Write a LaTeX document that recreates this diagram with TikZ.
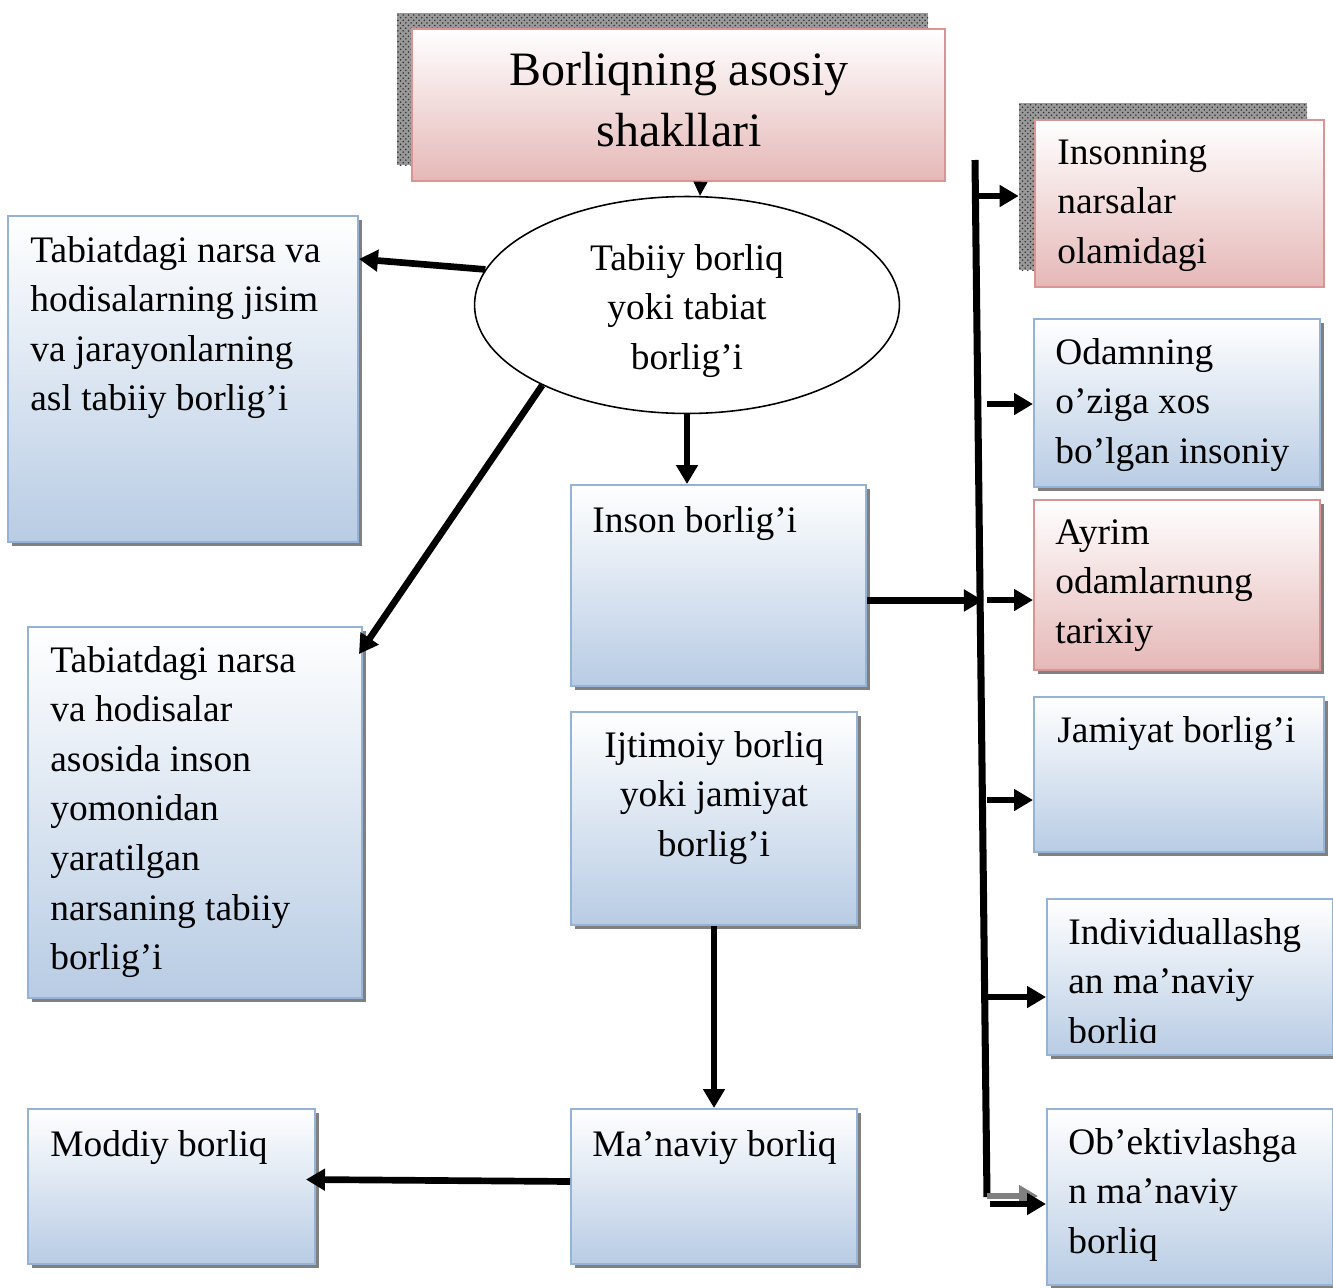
\documentclass[tikz,border=0pt]{standalone}
\usepackage{fontspec}
\setmainfont{Liberation Serif}
\usetikzlibrary{arrows.meta,shapes.geometric,shadows,fit,calc,patterns}

\definecolor{blueline}{HTML}{95B3D7}
\definecolor{bluefill}{HTML}{B8CCE4}
\definecolor{pinkline}{HTML}{D99594}
\definecolor{pinkfill}{HTML}{E5B8B7}

\begin{document}
\begin{tikzpicture}[x=0.02cm, y=-0.02cm,
  smallsh/.style={drop shadow={shadow xshift=0.08cm, shadow yshift=-0.08cm, fill=black!50, opacity=1}},
  bluebox/.style={rectangle, inner sep=0, line width=1.1pt, draw=blueline, top color=white, bottom color=bluefill},
  pinkbox/.style={rectangle, inner sep=0, line width=1.1pt, draw=pinkline, top color=white, bottom color=pinkfill},
  bigshadow/.style={rectangle, inner sep=0, preaction={fill=black!40}, pattern=crosshatch dots, pattern color=black!80},
  txt/.style={anchor=north west, inner sep=0, align=left, font=\fontsize{21.3}{28.2}\selectfont},
  arr/.style={line width=3.8pt, -{Triangle[length=0.38cm, width=0.42cm]}}]
\useasboundingbox (0,0) rectangle (1333,1288);

\node[bigshadow, fit={(397,13) (928,165)}] (titlesh) {};
\node[pinkbox, fit={(412,29) (945,181)}] (title) {};
\node[align=center, inner sep=0, font=\fontsize{27.3}{34.7}\selectfont] (titletx) at (679,100) {Borliqning asosiy\\shakllari};

\node[ellipse, draw, line width=0.9pt, fill=white, minimum width=8.5cm, minimum height=4.34cm, inner sep=0] (ell) at (687,305) {};
\node[align=center, inner sep=0, font=\fontsize{21.3}{28.2}\selectfont] (elltx) at (687,311) {Tabiiy borliq\\yoki tabiat\\borlig’i};

\node[bluebox, smallsh, fit={(8,216) (358,542)}] (A) {};
\node[bluebox, smallsh, fit={(28,627) (362,998)}] (B) {};
\node[bluebox, smallsh, fit={(571,485) (866,686)}] (C) {};
\node[bluebox, smallsh, fit={(571,712) (857,925)}] (D) {};
\node[bluebox, smallsh, fit={(571,1109) (857,1264)}] (E) {};
\node[bluebox, smallsh, fit={(28,1109) (315,1264)}] (F) {};

\node[bigshadow, fit={(1019,103) (1307,270)}] (R1sh) {};
\node[pinkbox, fit={(1035,120) (1324,287)}] (R1) {};
\node[bluebox, smallsh, fit={(1034,319) (1320,487)}] (R2) {};
\node[pinkbox, smallsh, fit={(1034,500) (1320,670)}] (R3) {};
\node[bluebox, smallsh, fit={(1034,697) (1324,852)}] (R4) {};
\node[bluebox, smallsh, fit={(1047,899) (1333,1055)}] (R5) {};
\node[bluebox, smallsh, fit={(1047,1109) (1333,1285)}] (R6) {};

\node[txt] (Atx) at (30,236) {Tabiatdagi narsa va\\hodisalarning jisim\\va jarayonlarning\\asl tabiiy borlig’i};
\node[txt] (Btx) at (50,646) {Tabiatdagi narsa\\va hodisalar\\asosida inson\\yomonidan\\yaratilgan\\narsaning tabiiy\\borlig’i};
\node[txt] (Ctx) at (592,506) {Inson borlig’i};
\node[txt, anchor=north, align=center] (Dtx) at (714,731) {Ijtimoiy borliq\\yoki jamiyat\\borlig’i};
\node[txt] (Etx) at (592,1130) {Ma’naviy borliq};
\node[txt] (Ftx) at (50,1130) {Moddiy borliq};
\node[txt] (R1tx) at (1057,139) {Insonning\\narsalar\\olamidagi};
\node[txt] (R2tx) at (1055,338) {Odamning\\o’ziga xos\\bo’lgan insoniy};
\node[txt] (R3tx) at (1055,519) {Ayrim\\odamlarnung\\tarixiy};
\node[txt] (R4tx) at (1057,716) {Jamiyat borlig’i};
\begin{scope}
\clip (1047,899) rectangle (1333,1042);
\node[txt] (R5tx) at (1068,918) {Individuallashg\\an ma’naviy\\borliq};
\end{scope}
\node[txt] (R6tx) at (1068,1128) {Ob’ektivlashga\\n ma’naviy\\borliq};

\draw[line width=0.5pt, -{Triangle[length=0.28cm, width=0.28cm]}] ($(title.south)+(22,0)$) -- ($(ell.north)+(13,0)$);
\draw[arr] (ell.170) -- ($(A.north east)+(0,44)$);
\draw[arr] (ell.209) -- ($(B.north east)+(-4,28)$);
\draw[arr] (ell.south) -- (ell.south |- C.north);
\draw[arr] (D.south) -- (E.north);
\draw[arr] ($(E.west)+(0,-5)$) -- ($(F.east)+(-10,-7)$);

\coordinate (vtop) at (975,160);
\coordinate (vbot) at (987,1197);
\draw[line width=4pt] (vtop) -- (vbot);
\draw[arr] ($(C.east)+(0,15)$) -- ($(C.east)+(116,15)$);

\coordinate (t1) at (978,196);
\coordinate (t2) at (987,404);
\coordinate (t3) at (987,600);
\coordinate (t4) at (987,800);
\coordinate (t5) at (987,997);
\coordinate (t6) at (987,1196);
\draw[arr] (t1) -- (t1 -| R1sh.west);
\draw[arr] (t2) -- (t2 -| R2.west);
\draw[arr] (t3) -- (t3 -| R3.west);
\draw[arr] (t4) -- (t4 -| R4.west);
\draw[arr] (t5) -- (t5 -| R5.west);
\draw[arr, gray, line width=3pt] (t6) -- ($(t6 -| R6.west)+(-8,0)$);
\draw[arr] ($(t6)+(3,8)$) -- ($(t6 -| R6.west)+(0,8)$);
\end{tikzpicture}
\end{document}
